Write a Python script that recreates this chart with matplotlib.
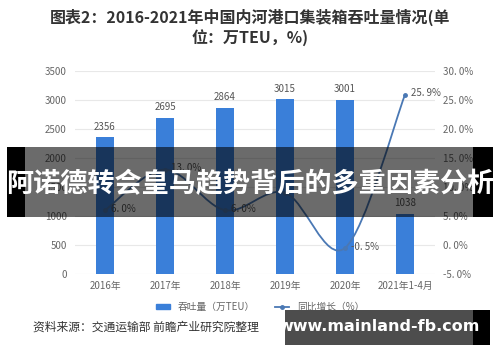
import numpy as np
import matplotlib
matplotlib.use("Agg")
import matplotlib.pyplot as plt
from matplotlib.patches import Rectangle, PathPatch
from matplotlib.path import Path
from matplotlib.lines import Line2D

plt.rcParams['font.family'] = ['Noto Sans CJK SC', 'DejaVu Sans']

# data
years = ['2016年', '2017年', '2018年', '2019年', '2020年', '2021年1-4月']
throughput = [2356, 2695, 2864, 3015, 3001, 1038]
growth = [6.0, 13.0, 6.0, 9.0, -0.5, 25.9]
growth_labels = ['6. 0%', '13. 0%', '6. 0%', None, '-0. 5%', '25. 9%']

bar_color = '#3a7fd9'
line_color = '#4a78b4'
tick_color = '#666666'

fig = plt.figure(figsize=(5, 3.62), dpi=100)
ax = fig.add_axes([0.15, 0.243, 0.72, 0.561])
ax2 = ax.twinx()

x = np.arange(len(years))
ax.bar(x, throughput, width=0.3, color=bar_color, zorder=2)
for xi, v in zip(x, throughput):
    ax.annotate(str(v), (xi, v), xytext=(0, 4), textcoords='offset points',
                ha='center', va='bottom', fontsize=7, color='#555555')

ax.set_ylim(0, 3500)
ax.set_yticks(range(0, 3501, 500))
ax.set_xlim(-0.5, len(years) - 0.5)
ax.set_xticks(x)
ax.set_xticklabels(years)
ax.grid(axis='y', color='#e8e8e8', linewidth=0.8, zorder=0)
ax.set_axisbelow(True)

ax2.set_ylim(-5, 30)
ax2.set_yticks(range(-5, 31, 5))
ax2.set_yticklabels([f'{v:.1f}%'.replace('.', '. ') for v in range(-5, 31, 5)])

for a in (ax, ax2):
    for s in a.spines.values():
        s.set_visible(False)
    a.tick_params(length=0, labelsize=7, colors=tick_color, pad=6)
ax.tick_params(axis='x', pad=5)

# smooth line through the growth points (catmull-rom as bezier)
pts = np.column_stack([x, growth]).astype(float)
verts = [tuple(pts[0])]
codes = [Path.MOVETO]
for i in range(len(pts) - 1):
    p0 = pts[max(i - 1, 0)]
    p1 = pts[i]
    p2 = pts[i + 1]
    p3 = pts[min(i + 2, len(pts) - 1)]
    c1 = p1 + (p2 - p0) / 6
    c2 = p2 - (p3 - p1) / 6
    verts += [tuple(c1), tuple(c2), tuple(p2)]
    codes += [Path.CURVE4] * 3
ax2.add_patch(PathPatch(Path(verts, codes), facecolor='none',
                        edgecolor=line_color, linewidth=1.3, zorder=3))
ax2.plot(x, growth, 'o', color=line_color, markersize=2.5, zorder=4)
for xi, v, lab in zip(x, growth, growth_labels):
    if lab:
        ax2.annotate(lab, (xi, v), xytext=(4, 1), textcoords='offset points',
                     ha='left', va='center', fontsize=7, color='#555555')

# legend
handles = [Rectangle((0, 0), 1, 1, color=bar_color),
           Line2D([], [], color=line_color, marker='o', markersize=2.5, linewidth=1.3)]
fig.legend(handles, ['吞吐量（万TEU）', '同比增长（%）'], loc='center',
           bbox_to_anchor=(0.52, 0.152), ncol=2, frameon=False, fontsize=7,
           labelcolor=tick_color, handlelength=1.5, handleheight=0.5, columnspacing=2)

# title
fig.text(0.5, 0.953, '图表2：2016-2021年中国内河港口集装箱吞吐量情况(单',
         ha='center', va='center', fontsize=11.5, fontweight='bold', color='#333333')
fig.text(0.5, 0.895, '位：万TEU，%)',
         ha='center', va='center', fontsize=11.5, fontweight='bold', color='#333333')

# footer
fig.text(0.066, 0.097, '资料来源：交通运输部 前瞻产业研究院整理',
         ha='left', va='center', fontsize=8.5, color='#333333')
fig.text(0.73, 0.097, '@前瞻经济学人APP', ha='left', va='center',
         fontsize=8.5, color='#333333', zorder=1)

# overlay banner
fig.patches.append(Rectangle((0.014, 0.40), 0.036, 0.193, transform=fig.transFigure,
                             facecolor='black', edgecolor='none', zorder=10))
fig.patches.append(Rectangle((0.946, 0.40), 0.04, 0.193, transform=fig.transFigure,
                             facecolor='black', edgecolor='none', zorder=10))
fig.patches.append(Rectangle((0.05, 0.40), 0.896, 0.193, transform=fig.transFigure,
                             facecolor='black', alpha=0.58, edgecolor='none', zorder=10))
fig.text(0.5, 0.492, '阿诺德转会皇马趋势背后的多重因素分析', ha='center', va='center',
         fontsize=19.5, fontweight='bold', color='white', zorder=11)

# footer overlay
fig.patches.append(Rectangle((0.57, 0.047), 0.376, 0.097, transform=fig.transFigure,
                             facecolor='#4d4d4d', edgecolor='none', zorder=10))
fig.patches.append(Rectangle((0.946, 0.047), 0.034, 0.097, transform=fig.transFigure,
                             facecolor='black', edgecolor='none', zorder=10))
fig.text(0.758, 0.097, 'www.mainland-fb.com', ha='center', va='center',
         fontsize=11.5, fontweight='bold', color='white', zorder=11,
         family='DejaVu Sans')

fig.savefig('out.png', dpi=100)
